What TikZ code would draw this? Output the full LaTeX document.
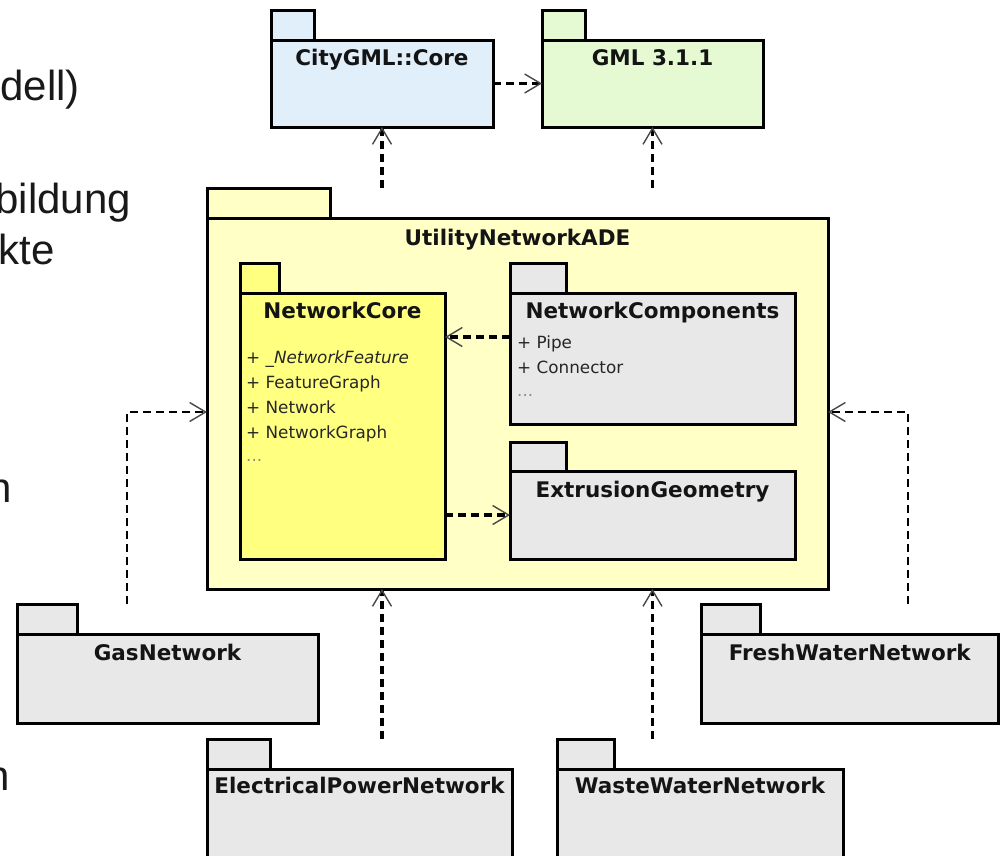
\documentclass[tikz,border=0pt]{standalone}
\usepackage{fontspec}
\setmainfont{DejaVu Sans}
\newfontfamily\slidefont{Liberation Sans}
\usetikzlibrary{arrows.meta,calc}
\definecolor{pkgblue}{HTML}{E1EFFB}
\definecolor{pkggreen}{HTML}{E5FAD3}
\definecolor{pkgpale}{HTML}{FFFFC6}
\definecolor{pkgyellow}{HTML}{FFFF80}
\definecolor{pkggrey}{HTML}{E8E8E8}
\tikzset{
  pkgline/.style={draw=black, line width=3pt, inner sep=0pt, outer sep=0pt, anchor=north west},
  pkgtitle/.style={font=\fontsize{21.5}{25}\selectfont\bfseries, anchor=base, inner sep=0pt, text=black!92},
  pkgitem/.style={font=\fontsize{16.8}{25}\selectfont, anchor=base west, inner sep=0pt, text=black!85},
  openv/.tip={Straight Barb[length=16pt,width=19pt,line width=1.4pt,color=black!72]},
  depbold/.style={draw=black, line width=3.6pt, dash pattern=on 8pt off 5pt, -openv},
  depthin/.style={draw=black, line width=2.2pt, dash pattern=on 8pt off 5pt, -openv},
  slidetext/.style={font=\slidefont\fontsize{42}{50}\selectfont, anchor=base east, inner sep=0pt, text=black!90},
}
% name, x1, tab top, tab right, body top, x2, body bottom, fill
\newcommand\umlpackage[8]{%
  \node[pkgline, fill=#8, minimum width={(#4-#2)*1pt}, minimum height={(#5-#3)*1pt}] (#1-tab) at (#2,#3) {};
  \node[pkgline, fill=#8, minimum width={(#6-#2)*1pt}, minimum height={(#7-#5)*1pt}] (#1) at (#2,#5) {};
  \node[inner sep=0pt, outer sep=0pt, anchor=north west, minimum width={(#6-#2)*1pt}, minimum height={(#7-#3)*1pt}] (#1-all) at (#2,#3) {};
}
\begin{document}
\begin{tikzpicture}[x=1pt,y=-1pt]
\useasboundingbox (0,0) rectangle (1001,855);
\clip (0,0) rectangle (1001,855);
\fill[white] (0,0) rectangle (1001,855);

% slide text fragments (cut at the left edge, as in the slide)
\node[slidetext] (s1) at (80,100) {dell)};
\node[slidetext] (s2) at (131,213) {bildung};
\node[slidetext] (s3) at (55,264) {kte};
\node[slidetext] (s4) at (12,502) {n};
\node[slidetext] (s5) at (10,790) {n};

% packages
\umlpackage{core}{271}{10}{314}{40}{493}{127}{pkgblue}
\umlpackage{gml}{542}{10}{585}{40}{763}{127}{pkggreen}
\umlpackage{ade}{207}{188}{330}{218}{828}{589}{pkgpale}
\umlpackage{ncore}{240}{263}{279}{293}{445}{559}{pkgyellow}
\umlpackage{ncomp}{510}{263}{566}{293}{795}{424}{pkggrey}
\umlpackage{extr}{510}{442}{566}{471}{795}{559}{pkggrey}
\umlpackage{gas}{17}{604}{77}{634}{318}{723}{pkggrey}
\umlpackage{fresh}{701}{604}{760}{634}{998.5}{723}{pkggrey}
\umlpackage{elec}{207}{739}{270}{769}{512}{890}{pkggrey}
\umlpackage{waste}{557}{739}{614}{769}{843}{890}{pkggrey}

% titles
\node[pkgtitle] (core-t) at ($(core.north)+(0,25)$) {CityGML::Core};
\node[pkgtitle] (gml-t) at ($(gml.north)+(0,25)$) {GML 3.1.1};
\node[pkgtitle] (ade-t) at ($(ade.north)+(0,27)$) {UtilityNetworkADE};
\node[pkgtitle] (ncore-t) at ($(ncore.north)+(0,25)$) {NetworkCore};
\node[pkgtitle] (ncomp-t) at ($(ncomp.north)+(0,25)$) {NetworkComponents};
\node[pkgtitle] (extr-t) at ($(extr.north)+(0,26)$) {ExtrusionGeometry};
\node[pkgtitle] (gas-t) at ($(gas.north)+(0,26)$) {GasNetwork};
\node[pkgtitle] (fresh-t) at ($(fresh.north)+(0,26)$) {FreshWaterNetwork};
\node[pkgtitle] (elec-t) at ($(elec.north)+(0,24)$) {ElectricalPowerNetwork};
\node[pkgtitle] (waste-t) at ($(waste.north)+(0,24)$) {WasteWaterNetwork};

% items
\node[pkgitem] (nc-1) at (246,363) {+ \textit{\_NetworkFeature}};
\node[pkgitem] (nc-2) at (246,388) {+ FeatureGraph};
\node[pkgitem] (nc-3) at (246,413) {+ Network};
\node[pkgitem] (nc-4) at (246,438) {+ NetworkGraph};
\node[pkgitem, text=black!45] (nc-5) at (246,461) {...};
\node[pkgitem] (cp-1) at (517,348) {+ Pipe};
\node[pkgitem] (cp-2) at (517,373) {+ Connector};
\node[pkgitem, text=black!45] (cp-3) at (517,396) {...};

% connectors
\coordinate (rowA) at (0,337);
\coordinate (jl) at (127,412);
\coordinate (jr) at (908,412);
\draw[depthin, line width=2.6pt] (core.east) -- (gml.west);
\draw[depbold] (ade-all.north -| core.south) -- (core.south);
\draw[depbold] (ade-all.north -| gml.south) -- (gml.south);
\draw[depbold] (ncomp.west |- rowA) -- (ncore.east |- rowA);
\draw[depbold] (ncore.east |- extr.west) -- (extr.west);
\draw[depthin] (gas-all.north -| jl) -- (jl) -- (ade.west |- jl);
\draw[depthin] (fresh-all.north -| jr) -- (jr) -- (ade.east |- jr);
\draw[depbold] (elec-all.north -| core.south) -- (ade.south -| core.south);
\draw[depbold] (waste-all.north -| gml.south) -- (ade.south -| gml.south);
\end{tikzpicture}
\end{document}
